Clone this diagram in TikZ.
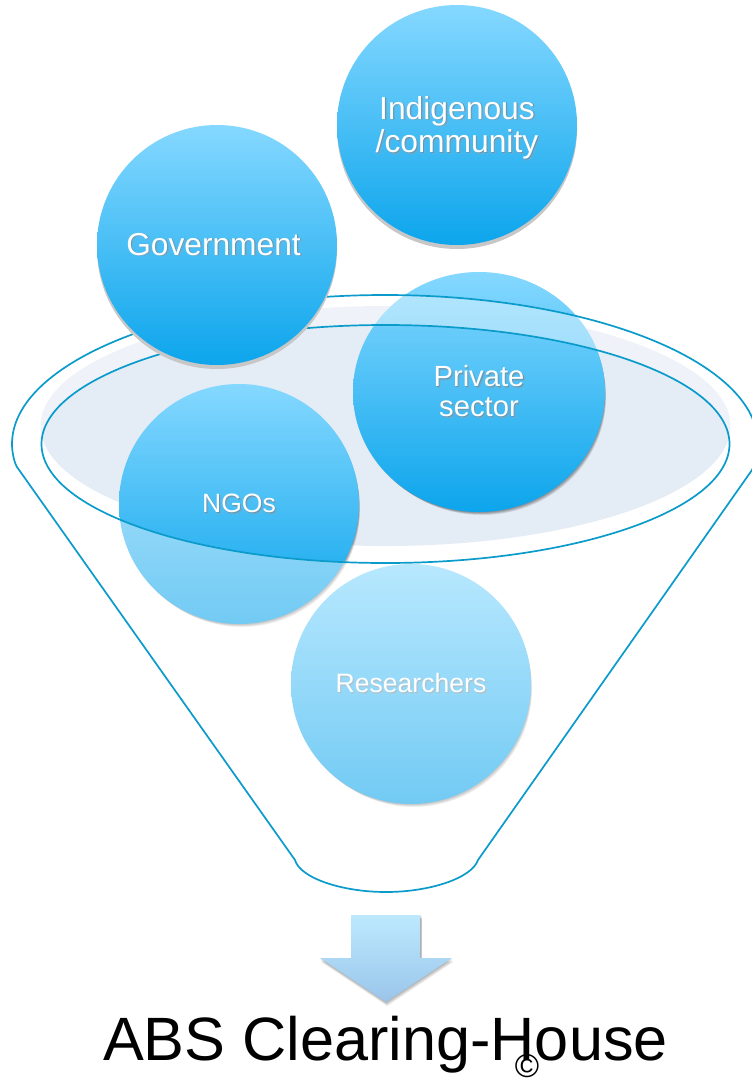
\documentclass[tikz,border=0pt]{standalone}
\usepackage{fontspec}
\setmainfont{Liberation Sans}
\usetikzlibrary{shapes.geometric}
\definecolor{funnelline}{HTML}{0A9BCB}
\definecolor{discfill}{HTML}{E4ECF5}
\definecolor{balltop}{HTML}{85D8FF}
\definecolor{ballbottom}{HTML}{0CA5EC}
\definecolor{arrowtop}{HTML}{BDE9FF}
\definecolor{arrowbottom}{HTML}{9AC5EA}
\definecolor{softshadow}{HTML}{2F4A5F}
\newcommand{\shtext}[1]{\leavevmode\rlap{\kern1.8pt\raisebox{-1.8pt}{\textcolor{softshadow!30!balltop}{#1}}}\rlap{\kern.9pt\raisebox{-.9pt}{\textcolor{softshadow!45!balltop}{#1}}}#1}
\newcommand{\softdisc}[4]{%
  \foreach \g in {0,1,2,3,4,5}{
    \pgfmathsetmacro{\rx}{#3-\g*.4}
    \pgfmathsetmacro{\ry}{#4-\g*.4}
    \fill[black,opacity=.08] ({#1+\g*.6},{#2+\g*.9+.5}) ellipse [x radius=\rx pt,y radius=\ry pt];
  }}
\tikzset{
  x=1pt,y=-1pt,
  ball/.style={ellipse,inner sep=0pt,minimum width=240pt,minimum height=240pt,
    shade,top color=balltop,bottom color=ballbottom,text=white,align=center},
  funnelstroke/.style={draw=funnelline,line width=1.7pt,line join=round},
}
\begin{document}
\begin{tikzpicture}
\useasboundingbox (0,0) rectangle (752,1079);
\clip (0,0) rectangle (752,1079);
% shaded disc
\fill[discfill] (385.5,426) ellipse [x radius=345pt,y radius=120pt];
% circles beneath the funnel overlay
\softdisc{479}{392}{126}{120}
\node[ball,minimum width=252pt,font=\fontsize{29.2}{30}\selectfont] (private) at (479,392)
  {\makebox[0pt]{\shtext{Private}}\\\makebox[0pt]{\shtext{sector}}};
\softdisc{239}{504}{120}{120}
\node[ball,font=\fontsize{26.5}{28}\selectfont] (ngos) at (239,504) {\makebox[0pt]{\shtext{NGOs}}};
\softdisc{411}{684}{120}{120}
\node[ball,font=\fontsize{26.6}{28}\selectfont] (researchers) at (411,684) {\makebox[0pt]{\shtext{Researchers}}};
% funnel: translucent white body with the mouth left open
\path[fill=white,fill opacity=.42,even odd rule]
  (12,444) .. controls (12,361.7) and (179,295) .. (385,295)
  .. controls (591,295) and (758,361.7) .. (758,444)
  .. controls (758,452) and (756,461) .. (752,470)
  -- (478,860) .. controls (472,878) and (430,892) .. (386,892)
  .. controls (342,892) and (300,878) .. (295,860)
  -- (17,467) .. controls (14,462) and (12,452) .. (12,444) -- cycle
  (385.5,444) ellipse [x radius=344pt,y radius=119pt];
\draw[funnelstroke]
  (12,444) .. controls (12,361.7) and (179,295) .. (385,295)
  .. controls (591,295) and (758,361.7) .. (758,444)
  .. controls (758,452) and (756,461) .. (752,470)
  -- (478,860) .. controls (472,878) and (430,892) .. (386,892)
  .. controls (342,892) and (300,878) .. (295,860)
  -- (17,467) .. controls (14,462) and (12,452) .. (12,444) -- cycle;
\draw[funnelstroke] (385.5,444) ellipse [x radius=344pt,y radius=119pt];
% circles above the funnel
\fill[black!22!white] (217,249) circle [radius=120pt];
\node[ball,font=\fontsize{31.7}{33}\selectfont] (government) at (217,245) {\makebox[0pt]{\shtext{Government}\kern7pt}};
\fill[black!22!white] (457,129) circle [radius=120pt];
\node[ball,font=\fontsize{31.8}{33.5}\selectfont] (indigenous) at (457,125)
  {\rule{0pt}{30pt}\makebox[0pt]{\shtext{Indigenous}}\\\makebox[0pt]{\shtext{/community}}};
% arrow
\foreach \g in {0,1,2,3,4}{
  \fill[black,opacity=.08] ({351+\g*.3},{915+\g}) -- ({421+\g*.3},{915+\g}) -- ({421+\g*.3},{958+\g}) -- ({452+\g*.3},{958+\g}) -- ({386+\g*.3},{1002+\g}) -- ({320+\g*.3},{958+\g}) -- ({351+\g*.3},{958+\g}) -- cycle;
}
\shade[top color=arrowtop,bottom color=arrowbottom]
  (351,915) -- (420,915) -- (420,958) -- (452,958) -- (386,1002) -- (320,958) -- (351,958) -- cycle;
% caption
\node[inner sep=0pt,anchor=base] (caption) at (385.5,1060) {\fontsize{61.2}{61.2}\selectfont ABS Clearing-House};
\node[inner sep=0pt] (copyright) at (527,1066) {\fontsize{33}{33}\selectfont ©};
\end{tikzpicture}
\end{document}
